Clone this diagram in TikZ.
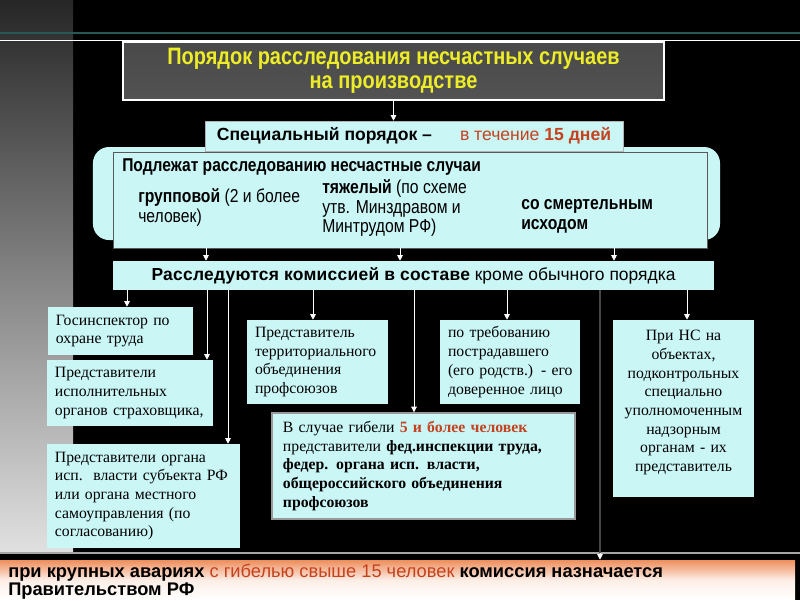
\documentclass[tikz,border=0pt]{standalone}
\usepackage{fontspec}
\setmainfont{Liberation Serif}
\newfontfamily\arialfont{Liberation Sans}
\newfontfamily\spacedfont{Liberation Sans}[LetterSpace=1.5]
\newfontfamily\narrowfont{Liberation Sans}[FakeStretch=0.84]
\usetikzlibrary{arrows.meta}
\definecolor{boxcyan}{RGB}{202,246,246}
\definecolor{titlegray}{RGB}{82,82,82}
\definecolor{titleyellow}{RGB}{236,236,40}
\definecolor{redtext}{RGB}{196,66,30}
\definecolor{barorange}{RGB}{238,142,92}
\definecolor{tealline}{RGB}{40,88,84}
\tikzset{
    cyanbox/.style={fill=boxcyan, inner sep=0pt},
    serifbox/.style={cyanbox, font=\fontsize{11.2}{13.3}\selectfont, align=left, inner xsep=2mm},
    colitem/.style={anchor=west, align=left, inner sep=0pt, font=\narrowfont\fontsize{13.3}{13.8}\selectfont},
    arr/.style={draw=white, line width=0.6pt, -{Triangle[width=4pt,length=4pt]}},
    dblline/.style={draw=white!85!black, double=gray!55!black, double distance=1pt, line width=0.5pt},
}
\begin{document}
\begin{tikzpicture}[x=0.25mm, y=-0.25mm]
    \fill [black] (0,0) rectangle (800,600);
    \useasboundingbox (0,0) rectangle (800,600);
    \shade [top color=black!85, bottom color=black!12] (0,0) rectangle (73,552);
    \draw [tealline, line width=1.4pt] (0,33) -- (800,33);
    \draw [white, line width=0.6pt] (0,40) -- (800,40);
    \draw [gray!70, line width=1pt] (0,553) -- (800,553);

    \node [draw=white, line width=1.2pt, top color=titlegray!105, bottom color=titlegray,
        minimum width=135.25mm, minimum height=14.5mm, align=center, text=titleyellow,
        font=\narrowfont\bfseries\fontsize{16.9}{17}\selectfont] (title) at (393.5,71)
        {Порядок расследования несчастных случаев\\на производстве};

    \node [cyanbox, rounded corners=4mm, minimum width=156.75mm, minimum height=23.25mm] (round) at (406.5,193.5) {};
    \node [cyanbox, draw=gray!70!black, line width=0.4pt, minimum width=148.5mm, minimum height=24mm] (inner) at (410,200) {};
    \node [cyanbox, draw=gray!60, line width=0.4pt, minimum width=104.5mm, minimum height=7.5mm,
        font=\arialfont\bfseries\fontsize{12.5}{14}\selectfont] (special) at (414,136)
        {Специальный порядок –\hspace{7mm}{\color{redtext}\mdseries в течение \bfseries 15 дней}};

    \node [anchor=west, inner sep=0pt, font=\narrowfont\bfseries\fontsize{13.2}{14}\selectfont] (head) at (122,167)
        {Подлежат расследованию несчастные случаи};
    \node [colitem] (grp) at (138,207.5)
        {\textbf{групповой} (2 и более\\человек)};
    \node [colitem] (heavy) at (322,208)
        {\textbf{тяжелый} (по схеме\\утв. Минздравом и\\Минтрудом РФ)};
    \node [colitem] (fatal) at (521,216.5)
        {\textbf{со смертельным}\\\textbf{исходом}};

    \node [cyanbox, minimum width=150.25mm, minimum height=7.25mm,
        font=\arialfont\fontsize{12.4}{14}\selectfont] (comm) at (413.5,275.5)
        {{\spacedfont\bfseries Расследуются комиссией в составе} кроме обычного порядка};

    \node [serifbox, minimum width=36.25mm, minimum height=12mm, text width=32.25mm] (gos) at (120.5,331)
        {Госинспектор по\\охране труда};
    \node [serifbox, minimum width=41.5mm, minimum height=16.5mm, text width=37.5mm] (ispol) at (130,393)
        {Представители\\исполнительных\\органов страховщика,};
    \node [serifbox, minimum width=48.25mm, minimum height=26mm, text width=44.25mm] (organ) at (143.5,496)
        {Представители органа\\исп.\ \ власти субъекта РФ\\или органа местного\\самоуправления (по\\согласованию)};
    \node [serifbox, minimum width=35.25mm, minimum height=21mm, text width=31.25mm] (terr) at (317.5,362)
        {Представитель\\территориального\\объединения\\профсоюзов};
    \node [serifbox, minimum width=35mm, minimum height=21mm, text width=33mm, inner xsep=1mm] (claim) at (510,362)
        {\hspace{1mm}по требованию\\\hspace*{1mm}пострадавшего\\\hspace*{1mm}(его родств.) - его\\\hspace*{1mm}доверенное лицо};
    \node [serifbox, draw=gray!80, line width=1pt, minimum width=75.75mm, minimum height=26.5mm,
        text width=70.25mm, inner xsep=2.75mm] (death) at (423.5,466)
        {В случае гибели \textbf{\color{redtext}5 и более человек}\\представители \textbf{фед.инспекции труда,}\\
        \textbf{федер. органа исп. власти,}\\\textbf{общероссийского объединения}\\\textbf{профсоюзов}};
    \node [serifbox, align=center, minimum width=35.25mm, minimum height=44.25mm, text width=31.25mm,
        text depth=104pt] (super) at (683.5,408.5)
        {При НС на\\объектах,\\подконтрольных\\специально\\уполномоченным\\надзорным\\органам - их\\представитель};

    \node [top color=barorange, bottom color=white, middle color=barorange!15!white, inner sep=0pt,
        minimum width=198.75mm, minimum height=10mm] (bar) at (397.5,580) {};
    \node [anchor=north west, align=left, inner sep=0pt,
        font=\arialfont\bfseries\fontsize{13}{11.2}\selectfont] (bartext) at (8,564)
        {при крупных авариях {\color{redtext}\mdseries с гибелью свыше 15 человек} комиссия назначается\\Правительством РФ};

    \coordinate (x1) at (206,0);
    \coordinate (x2) at (400,0);
    \coordinate (x3) at (614,0);
    \coordinate (y1) at (127,0);
    \coordinate (y2) at (207,0);
    \coordinate (y3) at (228,0);
    \coordinate (y4) at (313,0);
    \coordinate (y5) at (414,0);
    \coordinate (y6) at (507,0);
    \coordinate (y7) at (600,0);
    \coordinate (y8) at (687,0);

    \draw [arr] (title.south) -- (special.north -| title.south);
    \draw [arr] (inner.south -| x1) -- (comm.north -| x1);
    \draw [arr] (inner.south -| x2) -- (comm.north -| x2);
    \draw [arr] (inner.south -| x3) -- (comm.north -| x3);
    \draw [arr] (comm.south -| y1) -- (gos.north -| y1);
    \draw [arr] (comm.south -| y2) -- (ispol.north -| y2);
    \draw [arr] (comm.south -| y3) -- (organ.north -| y3);
    \draw [arr] (comm.south -| y4) -- (terr.north -| y4);
    \draw [arr] (comm.south -| y5) -- (death.north -| y5);
    \draw [arr] (comm.south -| y6) -- (claim.north -| y6);
    \draw [arr] (comm.south -| y7) -- (bar.north -| y7);
    \draw [dblline, shorten >=5pt] (comm.south -| y7) -- (bar.north -| y7);
    \draw [arr] (comm.south -| y8) -- (super.north -| y8);
\end{tikzpicture}
\end{document}
